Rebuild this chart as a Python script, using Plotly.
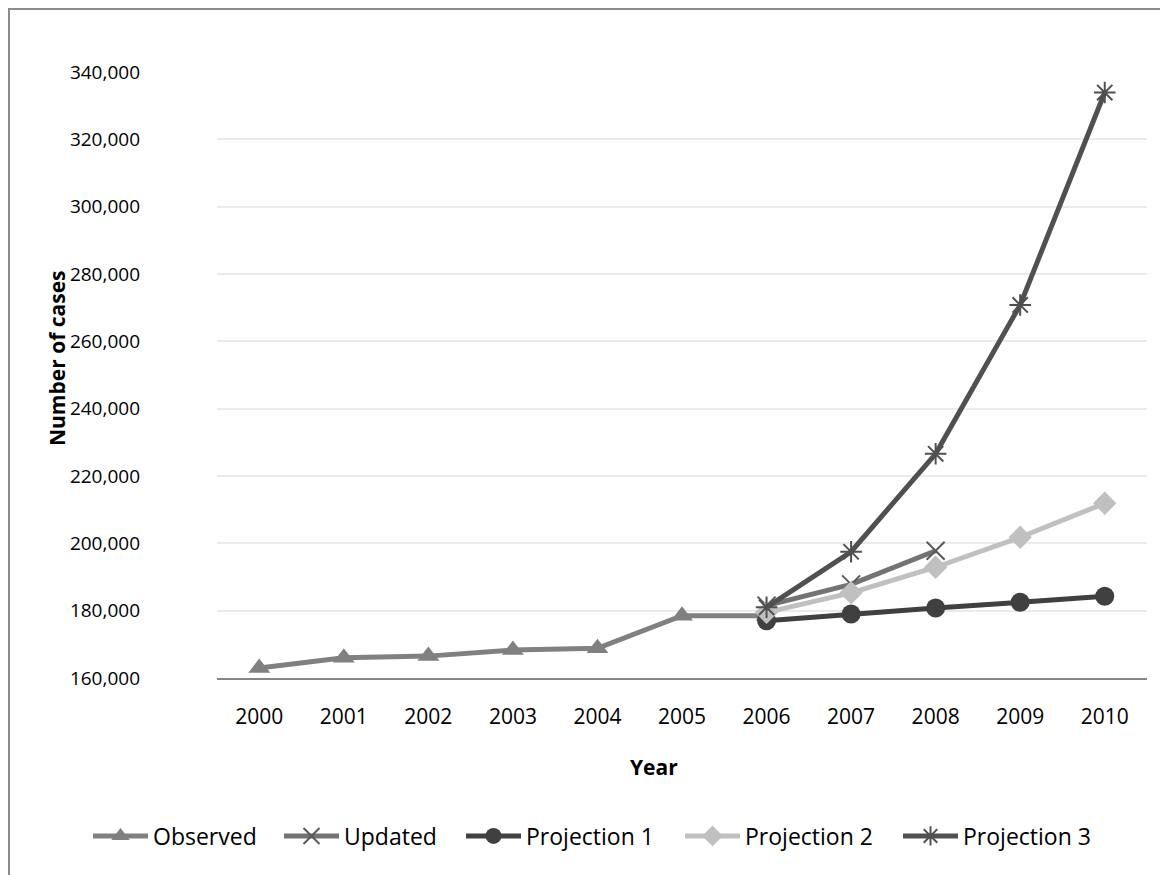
import plotly.graph_objects as go

years = [2000, 2001, 2002, 2003, 2004, 2005, 2006, 2007, 2008, 2009, 2010]
observed_years = [2000, 2001, 2002, 2003, 2004, 2005, 2006]
observed = [163000, 166000, 166500, 168300, 168800, 178500, 178500]
proj_years = [2006, 2007, 2008, 2009, 2010]
updated_years = [2006, 2007, 2008]
updated = [181500, 187800, 197800]
projection1 = [177000, 179000, 180800, 182500, 184300]
projection2 = [179500, 185300, 192900, 201800, 211900]
projection3 = [181000, 197500, 226600, 270800, 333900]

series_names = ["Observed", "Updated", "Projection 1", "Projection 2", "Projection 3"]

# page body has an 8px offset; work in figure pixels = screen - 8
OFF = 8
W, H = 1160, 867
L, R, T, B = 217 - OFF, 21, 72 - OFF, 197
PW, PH = W - L - R, H - T - B

def px_x(p):
    return (p - OFF - L) / PW

def px_y(p):
    return (H - B - (p - OFF)) / PH

FONT = "Open Sans"
XTICK = 21
YTICK = 19
ITEMW = 55

fig = go.Figure()
fig.add_trace(go.Scatter(x=observed_years, y=observed, name=series_names[0], mode="lines+markers",
                         line=dict(color="#808080", width=5), legend="legend",
                         marker=dict(symbol="triangle-up", size=19, color="#808080")))
fig.add_trace(go.Scatter(x=updated_years, y=updated, name=series_names[1], mode="lines+markers",
                         line=dict(color="#737373", width=5), legend="legend2",
                         marker=dict(symbol="x-thin", size=18, color="#737373",
                                     line=dict(color="#5a5a5a", width=2))))
fig.add_trace(go.Scatter(x=proj_years, y=projection1, name=series_names[2], mode="lines+markers",
                         line=dict(color="#404040", width=5), legend="legend3",
                         marker=dict(symbol="circle", size=19, color="#404040")))
fig.add_trace(go.Scatter(x=proj_years, y=projection2, name=series_names[3], mode="lines+markers",
                         line=dict(color="#C0C0C0", width=5), legend="legend4",
                         marker=dict(symbol="diamond", size=18, color="#C0C0C0")))
fig.add_trace(go.Scatter(x=proj_years, y=projection3, name=series_names[4], mode="lines+markers",
                         line=dict(color="#505050", width=5), legend="legend5",
                         marker=dict(symbol="asterisk-open", size=18, color="#505050",
                                     line=dict(color="#404040", width=2))))

text_starts = [153, 344, 526, 745, 963]
legend_y = px_y(836)

def make_legend(tx):
    return dict(orientation="h", x=px_x(tx - (ITEMW + 10)), xanchor="left", y=legend_y,
                yanchor="middle", font=dict(family=FONT, size=23, color="#000000"),
                itemwidth=ITEMW, bgcolor="rgba(0,0,0,0)", borderwidth=0)

fig.update_layout(
    width=W, height=H,
    margin=dict(l=L, r=R, t=T, b=B),
    paper_bgcolor="white", plot_bgcolor="white",
    font=dict(family=FONT, size=XTICK, color="#000000"),
    showlegend=True,
    legend=make_legend(text_starts[0]),
    legend2=make_legend(text_starts[1]),
    legend3=make_legend(text_starts[2]),
    legend4=make_legend(text_starts[3]),
    legend5=make_legend(text_starts[4]),
    xaxis=dict(range=[1999.5, 2010.5], tickmode="array", tickvals=years,
               ticktext=[str(y) for y in years], showgrid=False, zeroline=False,
               showline=True, linecolor="#868686", linewidth=2, ticks="",
               ticklabelstandoff=19, tickfont=dict(family=FONT, size=XTICK)),
    yaxis=dict(range=[160000, 340000], dtick=20000, tick0=160000, tickformat=",",
               showgrid=True, gridcolor="#EBEBEB", gridwidth=2, zeroline=False,
               showline=False, ticks="", ticklabelstandoff=76,
               tickfont=dict(family=FONT, size=YTICK)),
    annotations=[
        dict(text="<b>Number of cases</b>", xref="paper", yref="paper", x=px_x(57), y=px_y(358),
             xanchor="center", yanchor="middle", textangle=-90, showarrow=False,
             font=dict(family=FONT, size=21, color="#000000")),
        dict(text="<b>Year</b>", xref="paper", yref="paper", x=px_x(654), y=px_y(767),
             xanchor="center", yanchor="middle", showarrow=False,
             font=dict(family=FONT, size=21, color="#000000")),
    ],
    shapes=[
        dict(type="line", xref="paper", yref="paper", x0=px_x(8), x1=px_x(1180), y0=px_y(9), y1=px_y(9),
             line=dict(color="#8C8C8C", width=2)),
        dict(type="line", xref="paper", yref="paper", x0=px_x(9), x1=px_x(9), y0=px_y(9), y1=px_y(890),
             line=dict(color="#8C8C8C", width=2)),
    ],
)

fig.write_html("out.html")
